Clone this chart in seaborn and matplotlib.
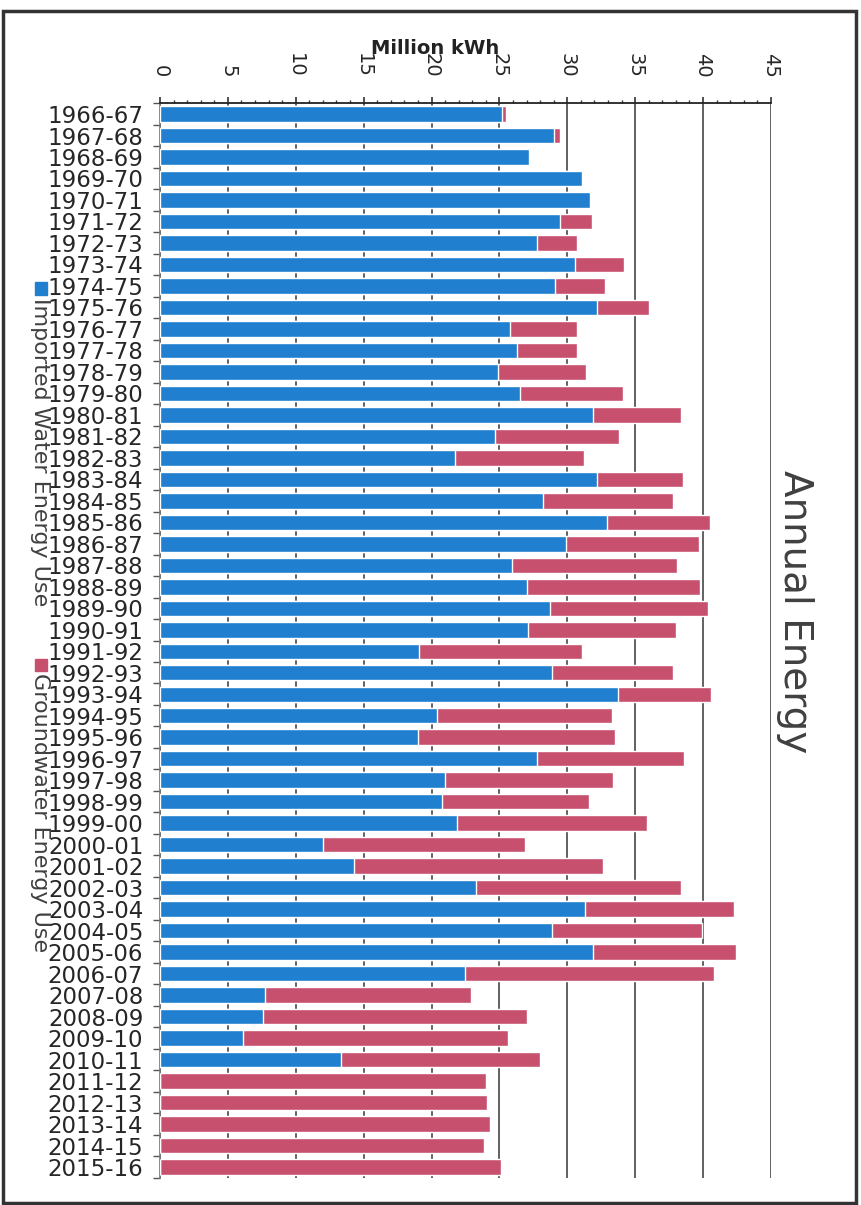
import numpy as np
import pandas as pd
import seaborn as sns
import matplotlib.pyplot as plt
from matplotlib.patches import Rectangle
from matplotlib.ticker import MultipleLocator

years = ["1966-67", "1967-68", "1968-69", "1969-70", "1970-71", "1971-72", "1972-73",
         "1973-74", "1974-75", "1975-76", "1976-77", "1977-78", "1978-79", "1979-80",
         "1980-81", "1981-82", "1982-83", "1983-84", "1984-85", "1985-86", "1986-87",
         "1987-88", "1988-89", "1989-90", "1990-91", "1991-92", "1992-93", "1993-94",
         "1994-95", "1995-96", "1996-97", "1997-98", "1998-99", "1999-00", "2000-01",
         "2001-02", "2002-03", "2003-04", "2004-05", "2005-06", "2006-07", "2007-08",
         "2008-09", "2009-10", "2010-11", "2011-12", "2012-13", "2013-14", "2014-15",
         "2015-16"]

# Million kWh
imported = [25.2, 29.0, 27.2, 31.1, 31.7, 29.5, 27.8, 30.6, 29.1, 32.2,
            25.8, 26.3, 24.9, 26.5, 31.9, 24.7, 21.7, 32.2, 28.2, 32.9,
            29.9, 25.9, 27.0, 28.7, 27.1, 19.1, 28.9, 33.7, 20.4, 19.0,
            27.8, 21.0, 20.8, 21.9, 12.0, 14.3, 23.3, 31.3, 28.9, 31.9,
            22.5, 7.7, 7.6, 6.1, 13.3, 0, 0, 0, 0, 0]
groundwater = [0.3, 0.5, 0, 0, 0, 2.3, 2.9, 3.6, 3.7, 3.8,
               4.9, 4.4, 6.5, 7.6, 6.5, 9.1, 9.5, 6.3, 9.6, 7.6,
               9.8, 12.2, 12.8, 11.7, 10.9, 12.0, 8.9, 6.9, 12.9, 14.5,
               10.8, 12.4, 10.8, 14.0, 14.9, 18.3, 15.1, 11.0, 11.0, 10.5,
               18.3, 15.2, 19.4, 19.5, 14.7, 24.0, 24.1, 24.3, 23.9, 25.1]

blue = "#2080CF"
red = "#C8506F"
txt = "#404040"

df = pd.DataFrame({"year": years, "imported": imported, "groundwater": groundwater})
df["total"] = df["imported"] + df["groundwater"]

sns.set_style("white")
plt.rcParams["font.family"] = ["DejaVu Sans"]

fig = plt.figure(figsize=(8.61, 12.05), dpi=100)
ax = fig.add_axes([0.1858, 0.0226, 0.7096, 0.8917])

# stacked bars: total in red underneath, imported in blue over it
sns.barplot(data=df, x="total", y="year", orient="h", color=red, width=0.72,
            saturation=1, ax=ax, zorder=2)
sns.barplot(data=df, x="imported", y="year", orient="h", color=blue, width=0.72,
            saturation=1, ax=ax, zorder=3)

ax.set_xlim(0, 45)
ax.xaxis.set_major_locator(MultipleLocator(5))
ax.xaxis.set_minor_locator(MultipleLocator(1))
ax.xaxis.tick_top()
ax.xaxis.set_label_position("top")
ax.grid(axis="x", which="major", color="#555555", linewidth=1.3, zorder=0)
ax.set_axisbelow(True)
ax.tick_params(axis="x", which="major", direction="out", length=4.5, width=1.2,
               color="#333333", labelsize=14, pad=14, labelrotation=-90)
ax.tick_params(axis="x", which="minor", direction="out", length=2.5, width=1,
               color="#333333")
for lab in ax.get_xticklabels():
    lab.set_verticalalignment("bottom")

ax.set_yticks(range(len(years)))
ax.set_yticklabels(years)
ax.set_yticks(np.arange(len(years) + 1) - 0.5, minor=True)
ax.tick_params(axis="y", which="major", length=0, labelsize=16.5, pad=12)
ax.tick_params(axis="y", which="minor", direction="out", length=5, width=1,
               color="#555555", left=True)
ax.set_ylim(len(years) - 0.5, -0.5)

ax.set_ylabel("")
ax.set_xlabel("Million kWh", fontsize=14, fontweight="bold", color="#222222")
ax.xaxis.set_label_coords(0.45, 1.046)

for s in ["right", "bottom"]:
    ax.spines[s].set_visible(False)
ax.spines["top"].set_color("#222222")
ax.spines["top"].set_linewidth(1.3)
ax.spines["left"].set_color("#777777")
ax.spines["left"].set_linewidth(1.2)

fig.text(795 / 861, 1 - 612 / 1205, "Annual Energy", rotation=-90, fontsize=28,
         color=txt, ha="center", va="center")

# legend written along the left edge
fig.patches.append(Rectangle((35 / 861, 1 - 295 / 1205), 12 / 861, 13 / 1205,
                             transform=fig.transFigure, color=blue, figure=fig))
fig.text(40 / 861, 1 - 298 / 1205, "Imported Water Energy Use", rotation=-90,
         fontsize=16, color=txt, ha="center", va="top")
fig.patches.append(Rectangle((35 / 861, 1 - 671 / 1205), 12 / 861, 12 / 1205,
                             transform=fig.transFigure, color=red, figure=fig))
fig.text(40 / 861, 1 - 673 / 1205, "Groundwater Energy Use", rotation=-90,
         fontsize=16, color=txt, ha="center", va="top")

# scanned page border
fig.patches.append(Rectangle((3 / 861, 2 / 1205), 853 / 861, 1192 / 1205, fill=False,
                             transform=fig.transFigure, edgecolor="#333333",
                             linewidth=2.5, figure=fig))

fig.savefig("out.png", dpi=100)
